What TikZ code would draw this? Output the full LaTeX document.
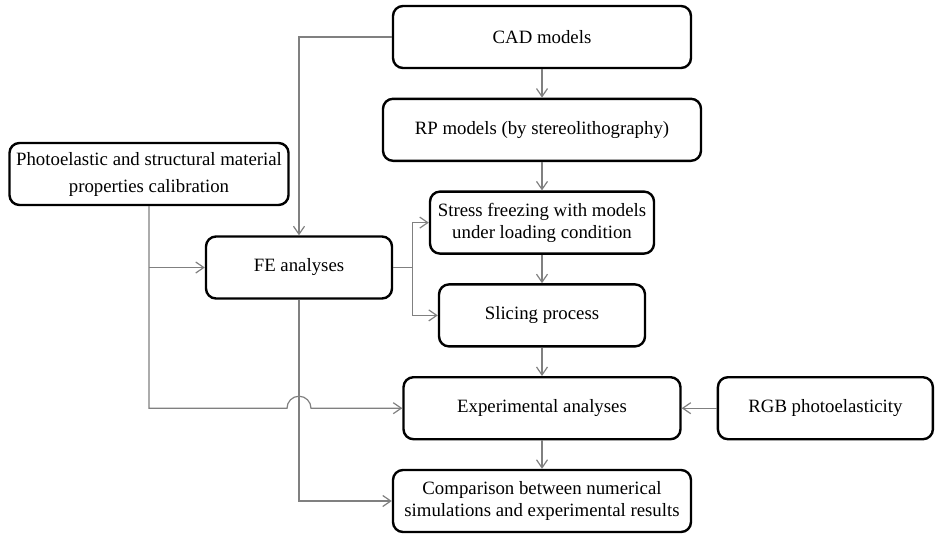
\documentclass[tikz,border=0pt]{standalone}
\usepackage{fontspec}
\setmainfont{Liberation Serif}
\usetikzlibrary{positioning,calc,arrows.meta}

\begin{document}
\begin{tikzpicture}[x=0.5pt, y=-0.5pt, node distance=14.2pt,
    box/.style={rectangle, draw, line width=1.2pt, rounded corners=5pt, align=center, minimum height=31pt, font=\fontsize{9.4}{11}\selectfont},
    conn/.style={draw=black!50, line width=0.6pt, -{Straight Barb[length=4pt,width=5.5pt]}}]
    \useasboundingbox (0,0) rectangle (936,536);

    \node[box, minimum width=149pt] (cad) at (542,37) {CAD models};
    \node[box, minimum width=159pt, below=of cad] (rp) {RP models (by stereolithography)};
    \node[box, minimum width=112pt, below=of rp] (stress) {Stress freezing with models\\under loading condition};
    \node[box, minimum width=103pt, below=of stress] (slicing) {Slicing process};
    \node[box, minimum width=138.5pt, below=of slicing] (exp) {Experimental analyses};
    \node[box, minimum width=149pt, below=of exp] (comp) {Comparison between numerical\\simulations and experimental results};
    \node[box, minimum width=107.5pt, right=17.5pt of exp] (rgb) {RGB photoelasticity};

    \node[box, minimum width=139.5pt] (photo) at (149,174) {Photoelastic and structural material\\[2.5pt]properties calibration};
    \node[box, minimum width=93pt] (fe) at (299,267.5) {FE analyses};
    \coordinate (split) at ($(fe.east)+(19,0)$);

    \draw[conn] (cad) -- (rp);
    \draw[conn] (rp) -- (stress);
    \draw[conn] (stress) -- (slicing);
    \draw[conn] (slicing) -- (exp);
    \draw[conn] (exp) -- (comp);
    \draw[conn] (rgb) -- (exp);
    \draw[conn] (cad.west) -| (fe.north);
    \draw[conn] (photo.south |- fe.west) -- (fe.west);
    \draw[conn] (photo.south) |- ([xshift=-6pt]fe.south |- exp.west) arc[start angle=180, end angle=0, radius=6pt] -- (exp.west);
    \draw[conn, -] (fe.east) -- (split);
    \draw[conn] (split) |- (stress.west);
    \draw[conn] (split) |- (slicing.west);
    \draw[conn] (fe.south) |- (comp.west);
\end{tikzpicture}
\end{document}
